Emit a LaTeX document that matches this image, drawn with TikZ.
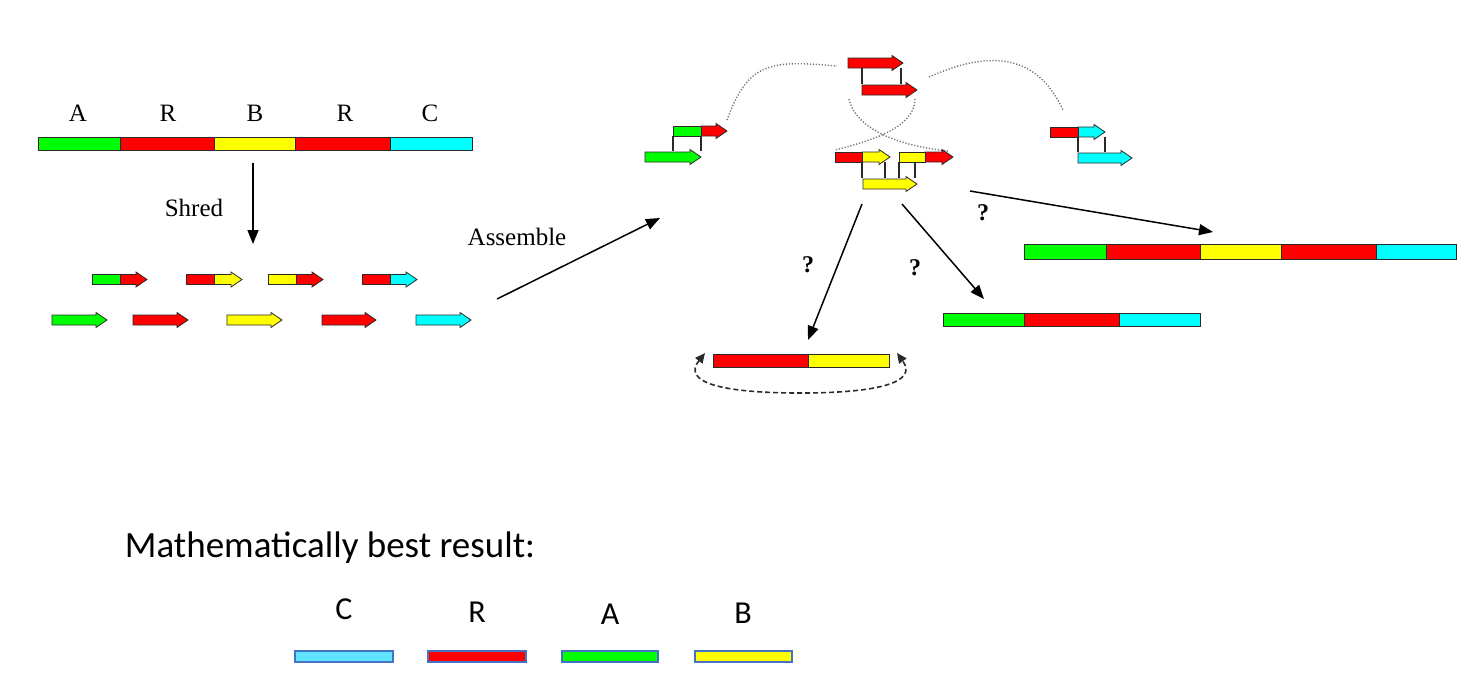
\documentclass[tikz,border=0pt]{standalone}
\usepackage{fontspec}
\setmainfont{Liberation Serif}
\newfontfamily\calfont{Carlito}
\usetikzlibrary{arrows.meta}
\definecolor{cg}{HTML}{00FF00}
\definecolor{cr}{HTML}{FF0000}
\definecolor{cy}{HTML}{FFFF00}
\definecolor{cc}{HTML}{00FFFF}
\definecolor{lc}{HTML}{5FE3FF}
\definecolor{outl}{HTML}{2A2A2A}
\definecolor{legbd}{HTML}{4472C4}
\newcommand{\rdarr}[4]{\filldraw[fill=#4,draw=outl,line width=0.8pt] (#1,{#3-5}) -- ({#2-11},{#3-5}) -- ({#2-11},{#3-7.5}) -- (#2,#3) -- ({#2-11},{#3+7.5}) -- ({#2-11},{#3+5}) -- (#1,{#3+5}) -- cycle;}
\newcommand{\rdbox}[4]{\filldraw[fill=#4,draw=outl,line width=0.8pt] (#1,{#3-5}) rectangle (#2,{#3+5});}
\newcommand{\seg}[5]{\filldraw[fill=#5,draw=outl,line width=1pt] (#1,#3) rectangle (#2,#4);}
\tikzset{
  lbl/.style={font=\fontsize{25}{28}\selectfont},
  qm/.style={font=\bfseries\fontsize{24}{26}\selectfont},
  conn/.style={line width=1.5pt,-{Triangle[length=14pt,width=11pt]}},
  vl/.style={draw=outl,line width=1.2pt},
  dotc/.style={draw=black!55,line width=1.4pt,dash pattern=on 1.2pt off 1.8pt},
  leg/.style={draw=legbd,line width=2pt},
  legl/.style={font=\calfont\fontsize{32}{34}\selectfont}
}
\begin{document}
\begin{tikzpicture}[x=1pt,y=-1pt]
\useasboundingbox (0,0) rectangle (1463,675);
% genome bar
\node[lbl] (lA) at (78,113) {A};
\node[lbl] (lR1) at (168,113) {R};
\node[lbl] (lB) at (255,113) {B};
\node[lbl] (lR2) at (345,113) {R};
\node[lbl] (lC) at (430,113) {C};
\seg{38}{120}{137}{150}{cg}
\seg{120}{214}{137}{150}{cr}
\seg{214}{295}{137}{150}{cy}
\seg{295}{390}{137}{150}{cr}
\seg{390}{472}{137}{150}{cc}
% shred
\node[lbl] (shred) at (194,208) {Shred};
\coordinate (s1) at (253,163);
\coordinate (s2) at (253,244);
\draw[conn] (s1) -- (s2);
% reads row 1
\rdarr{120}{147}{279.5}{cr}\rdbox{92}{120}{279.5}{cg}
\rdarr{214}{242}{279.5}{cy}\rdbox{186}{214}{279.5}{cr}
\rdarr{296}{323}{279.5}{cr}\rdbox{268}{296}{279.5}{cy}
\rdarr{390}{417}{279.5}{cc}\rdbox{362}{390}{279.5}{cr}
% reads row 2
\rdarr{52}{107}{320}{cg}
\rdarr{133}{188}{320}{cr}
\rdarr{227}{282}{320}{cy}
\rdarr{322}{376}{320}{cr}
\rdarr{416}{471}{320}{cc}
% assemble
\node[lbl] (asm) at (517,237) {Assemble};
\coordinate (a1) at (497,299);
\coordinate (a2) at (660,218);
\draw[conn] (a1) -- (a2);
% dotted curves
\draw[dotc] (727,120) .. controls (748,62) and (770,60) .. (837,66);
\draw[dotc] (929,77) .. controls (985,52) and (1035,50) .. (1063,110);
\draw[dotc] (849,99) .. controls (856,130) and (900,146) .. (948,151);
\draw[dotc] (915,99) .. controls (915,128) and (870,141) .. (835,150);
% left group
\draw[vl] (673,136) -- (673,151);
\draw[vl] (701,136) -- (701,151);
\rdarr{701}{727}{131}{cr}\rdbox{673}{701}{131}{cg}
\rdarr{645}{701}{157}{cg}
% top group
\draw[vl] (862,68) -- (862,84);
\draw[vl] (901,68) -- (901,84);
\rdarr{848}{903}{63}{cr}
\rdarr{862}{917}{90}{cr}
% middle group
\draw[vl] (862,162) -- (862,178);
\draw[vl] (885,162) -- (885,178);
\draw[vl] (899,162) -- (899,178);
\draw[vl] (915,162) -- (915,178);
\rdarr{862}{890}{157}{cy}\rdbox{835}{862}{157}{cr}
\rdarr{925}{953}{157}{cr}\rdbox{899}{925}{157}{cy}
\rdarr{863}{917}{184}{cy}
% right group
\draw[vl] (1078,137) -- (1078,152);
\draw[vl] (1105,137) -- (1105,152);
\rdarr{1078}{1105}{132}{cc}\rdbox{1050}{1078}{132}{cr}
\rdarr{1078}{1132}{158}{cc}
% outcome arrows
\coordinate (o1s) at (862,204);
\coordinate (o1e) at (808,340);
\coordinate (o2s) at (902,204);
\coordinate (o2e) at (984,299);
\coordinate (o3s) at (970,191);
\coordinate (o3e) at (1213,232);
\draw[conn] (o1s) -- (o1e);
\draw[conn] (o2s) -- (o2e);
\draw[conn] (o3s) -- (o3e);
\node[qm] (q1) at (808,265) {?};
\node[qm] (q2) at (915,268) {?};
\node[qm] (q3) at (983,213) {?};
% right bars
\seg{1024}{1106}{244}{259}{cg}
\seg{1106}{1200}{244}{259}{cr}
\seg{1200}{1281}{244}{259}{cy}
\seg{1281}{1376}{244}{259}{cr}
\seg{1376}{1456}{244}{259}{cc}
\seg{943}{1024}{313}{326}{cg}
\seg{1024}{1119}{313}{326}{cr}
\seg{1119}{1200}{313}{326}{cc}
% circular bar
\seg{713}{808}{354}{367}{cr}
\seg{808}{889}{354}{367}{cy}
\draw[line width=1.6pt,dash pattern=on 5pt off 3pt,draw=outl,{Triangle[length=10pt,width=9pt]}-{Triangle[length=10pt,width=9pt]}] (705,353) .. controls (682,382) and (720,393) .. (800,393) .. controls (880,393) and (918,382) .. (897,353);
% legend
\node[font=\calfont\fontsize{37}{40}\selectfont] (mbr) at (330,548) {Mathematically best result:};
\node[legl] (gC) at (344,609) {C};
\node[legl] (gR) at (477,612) {R};
\node[legl] (gA) at (610,614) {A};
\node[legl] (gB) at (743,613) {B};
\filldraw[leg,fill=lc] (295,651) rectangle (393,662);
\filldraw[leg,fill=cr] (428,651) rectangle (526,662);
\filldraw[leg,fill=cg] (562,651) rectangle (658,662);
\filldraw[leg,fill=cy] (695,651) rectangle (792,662);
\end{tikzpicture}
\end{document}
